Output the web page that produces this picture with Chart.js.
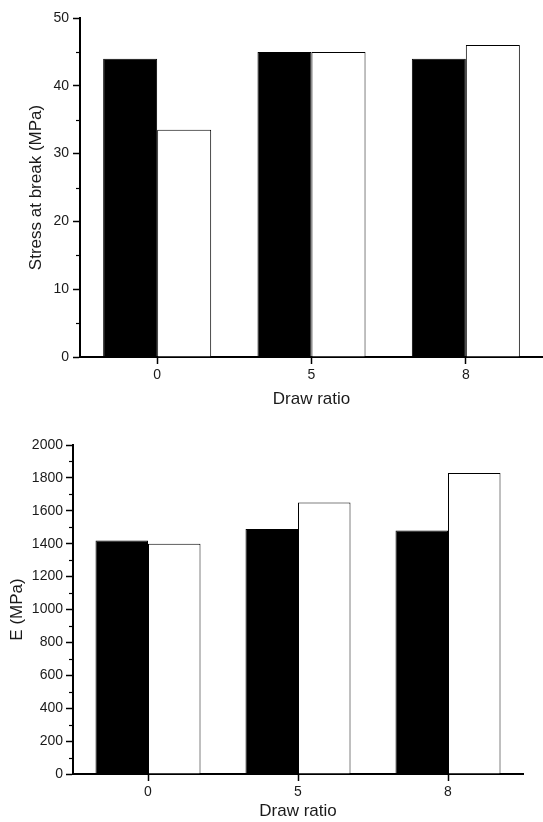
<!DOCTYPE html>
<html>
<head>
<meta charset="utf-8">
<script src="https://cdn.jsdelivr.net/npm/chart.js@4/dist/chart.umd.min.js"></script>
<style>
  html, body { margin: 0; padding: 0; background: #fff; overflow: hidden; }
  canvas { position: absolute; left: 0; }
</style>
</head>
<body>
<canvas id="c1" width="543" height="410" style="top:0px"></canvas>
<canvas id="c2" width="543" height="412" style="top:410px"></canvas>
<script>
// ---- data ----
const categories = ['0', '5', '8'];
const stressBlack = [44, 45, 44];
const stressWhite = [33.5, 45, 46];
const modulusBlack = [1420, 1490, 1480];
const modulusWhite = [1400, 1650, 1830];
const stressMinorTicks = [5, 15, 25, 35, 45];
const modulusMinorTicks = [100, 300, 500, 700, 900, 1100, 1300, 1500, 1700, 1900];
const xTitle = 'Draw ratio';
const stressTitle = 'Stress at break (MPa)';
const modulusTitle = 'E (MPa)';

const FONT = "'Liberation Sans', Arial, sans-serif";
const TXT = '#1a1a1a';

const minorTickPlugin = {
  id: 'minorTicks',
  afterDraw(chart, args, opts) {
    const y = chart.scales.y;
    const ctx = chart.ctx;
    ctx.save();
    ctx.strokeStyle = '#000';
    ctx.lineWidth = 1.2;
    (opts.values || []).forEach(v => {
      const py = Math.round(y.getPixelForValue(v)) + 0.5;
      ctx.beginPath();
      ctx.moveTo(y.right - 4, py);
      ctx.lineTo(y.right, py);
      ctx.stroke();
    });
    ctx.restore();
  }
};

function makeChart(id, black, white, yMax, yStep, minor, yTitle, cfg) {
  return new Chart(document.getElementById(id), {
    type: 'bar',
    data: {
      labels: categories,
      datasets: [
        { data: black, backgroundColor: '#000', borderColor: '#000', borderWidth: 1 },
        { data: white, backgroundColor: '#fff', borderColor: '#000', borderWidth: 1 }
      ]
    },
    options: {
      responsive: false,
      animation: false,
      devicePixelRatio: 1,
      categoryPercentage: 0.7,
      barPercentage: 1.0,
      layout: { padding: { top: cfg.top, right: cfg.right, left: 0, bottom: 0 } },
      plugins: {
        legend: { display: false },
        tooltip: { enabled: false },
        minorTicks: { values: minor }
      },
      scales: {
        x: {
          type: 'category',
          offset: true,
          grid: { display: true, offset: false, drawOnChartArea: false, drawTicks: true, tickLength: 7, tickColor: '#000', tickWidth: 1.5 },
          border: { display: true, color: '#000', width: 2 },
          ticks: { color: TXT, font: { family: FONT, size: 14 }, padding: 3, maxRotation: 0 },
          title: { display: true, text: xTitle, color: TXT, font: { family: FONT, size: 17 }, padding: { top: 0, bottom: 0 } },
          afterFit(scale) { scale.height = cfg.xh; }
        },
        y: {
          min: 0, max: yMax,
          grid: { display: true, drawOnChartArea: false, drawTicks: true, tickLength: 7, tickColor: '#000', tickWidth: 1.5 },
          border: { display: true, color: '#000', width: 2 },
          ticks: {
            stepSize: yStep, color: TXT, font: { family: FONT, size: 14 }, padding: cfg.ypad,
            callback: (v) => String(v)
          },
          title: { display: true, text: yTitle, color: TXT, font: { family: FONT, size: 17 }, padding: { top: cfg.ytp, bottom: 0 } },
          afterFit(scale) { scale.width = cfg.yw; }
        }
      }
    },
    plugins: [minorTickPlugin]
  });
}

makeChart('c1', stressBlack, stressWhite, 50, 10, stressMinorTicks, stressTitle,
  { top: 18, right: 0, xh: 410 - 357, yw: 80, ypad: 4, ytp: 26 });
makeChart('c2', modulusBlack, modulusWhite, 2000, 200, modulusMinorTicks, modulusTitle,
  { top: 35, right: 20, xh: 412 - 364, yw: 73, ypad: 3, ytp: 7 });
</script>
</body>
</html>
